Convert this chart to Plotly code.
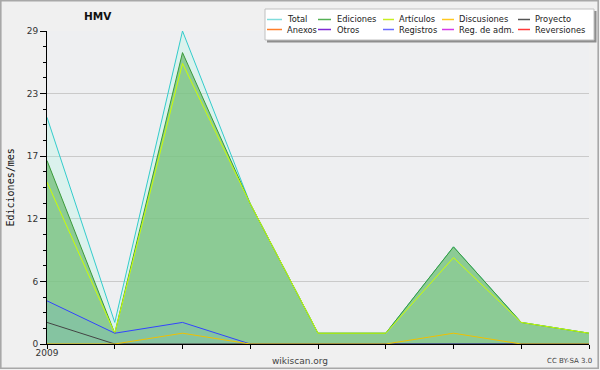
import plotly.graph_objects as go

# ---- data ----
months = ["2009-01", "2009-02", "2009-03", "2009-04", "2009-05",
          "2009-06", "2009-07", "2009-08", "2009-09"]
month_labels = ["2009", "", "", "", "", "", "", "", ""]

total = [21, 2, 29, 13, 1, 1, 9, 2, 1]
ediciones = [17, 1, 27, 13, 1, 1, 9, 2, 1]
articulos = [15, 1, 26, 13, 1, 1, 8, 2, 1]
discusiones = [0, 0, 1, 0, 0, 0, 1, 0, 0]
proyecto = [2, 0, 0, 0, 0, 0, 0, 0, 0]
anexos = [0, 0, 0, 0, 0, 0, 0, 0, 0]
otros = [0, 0, 0, 0, 0, 0, 0, 0, 0]
registros = [4, 1, 2, 0, 0, 0, 0, 0, 0]
reg_adm = [0, 0, 0, 0, 0, 0, 0, 0, 0]
reversiones = [0, 0, 0, 0, 0, 0, 0, 0, 0]

y_tickvals = [0, 5.8, 11.6, 17.4, 23.2, 29]
y_ticktext = ["0", "6", "12", "17", "23", "29"]

legend_names = [["Total", "Ediciones", "Artículos", "Discusiones", "Proyecto"],
                ["Anexos", "Otros", "Registros", "Reg. de adm.", "Reversiones"]]
legend_colors = [["#80dcdc", "#55b055", "#c8ee22", "#ffc820", "#555555"],
                 ["#ff7f2a", "#7f2ad4", "#6a6aff", "#d43ae8", "#ff3a3a"]]

# ---- geometry helpers (pixel -> paper) ----
W, H = 600, 370
ML, MR, MT, MB = 47, 11, 31, 26
PW, PH = W - ML - MR, H - MT - MB


def px(x):
    return (x - ML) / PW


def py(y):
    return (H - MB - y) / PH


fig = go.Figure()

series = [
    ("Anexos", anexos, "#ff8833", None),
    ("Otros", otros, "#8833dd", None),
    ("Reg. de adm.", reg_adm, "#dd44ee", None),
    ("Reversiones", reversiones, "#ff4444", None),
    ("Total", total, "#33cccc", "rgba(154,255,222,0.22)"),
    ("Ediciones", ediciones, "#3a9a3a", "rgba(120,192,126,0.80)"),
    ("Artículos", articulos, "#ccff00", None),
    ("Registros", registros, "#3344ff", "rgba(80,150,255,0.12)"),
    ("Proyecto", proyecto, "#444444", None),
    ("Discusiones", discusiones, "#f0c000", None),
]
for name, vals, col, fill in series:
    fig.add_trace(go.Scatter(
        x=months, y=vals, name=name, mode="lines",
        line=dict(color=col, width=1),
        fill="tozeroy" if fill else None,
        fillcolor=fill,
        showlegend=False,
        hoverinfo="x+y+name",
    ))

shapes = []
annotations = []

# outer frame
shapes.append(dict(type="rect", xref="paper", yref="paper",
                   x0=px(0.8), x1=px(598.2), y0=py(0.8), y1=py(368.2),
                   line=dict(color="#a8a8a8", width=1.6), fillcolor="rgba(0,0,0,0)",
                   layer="above"))

# legend box with shadow
shapes.append(dict(type="rect", xref="paper", yref="paper",
                   x0=px(267), x1=px(596.5), y0=py(11), y1=py(42.5),
                   line=dict(width=0), fillcolor="#8e8e8e", layer="above"))
shapes.append(dict(type="rect", xref="paper", yref="paper",
                   x0=px(265), x1=px(594), y0=py(9), y1=py(40),
                   line=dict(color="#c0c0c0", width=1), fillcolor="#ffffff",
                   layer="above"))

col_line_x = [(267, 282), (318, 331), (383, 394), (442, 454), (518, 530)]
col_text_x = [285, 335, 397, 457, 533]
row_y = [19.5, 29.5]
for r in range(2):
    for c in range(5):
        x0, x1 = col_line_x[c]
        shapes.append(dict(type="line", xref="paper", yref="paper",
                           x0=px(x0), x1=px(x1), y0=py(row_y[r]), y1=py(row_y[r]),
                           line=dict(color=legend_colors[r][c], width=1.5),
                           layer="above"))
        annotations.append(dict(xref="paper", yref="paper",
                                x=px(col_text_x[c]), y=py(row_y[r]),
                                text=legend_names[r][c], showarrow=False,
                                xanchor="left", yanchor="middle",
                                font=dict(family="DejaVu Sans", size=8.3, color="#222222")))

# title
annotations.append(dict(xref="paper", yref="paper", x=px(97.5), y=py(16.5),
                        text="<b>HMV</b>", showarrow=False,
                        xanchor="center", yanchor="middle",
                        font=dict(family="DejaVu Sans", size=10.5, color="#111111")))
# y-axis title
annotations.append(dict(xref="paper", yref="paper", x=px(9.5), y=py(188),
                        text="Ediciones/mes", showarrow=False, textangle=-90,
                        xanchor="center", yanchor="middle",
                        font=dict(family="DejaVu Sans Mono", size=10, color="#111111")))
# footer texts
annotations.append(dict(xref="paper", yref="paper", x=px(300), y=py(361),
                        text="wikiscan.org", showarrow=False,
                        xanchor="center", yanchor="middle",
                        font=dict(family="DejaVu Sans", size=9, color="#444444")))
annotations.append(dict(xref="paper", yref="paper", x=px(569.5), y=py(361.5),
                        text="CC BY-SA 3.0", showarrow=False,
                        xanchor="center", yanchor="middle",
                        font=dict(family="DejaVu Sans", size=7, color="#444444")))

fig.update_layout(
    width=W, height=H,
    margin=dict(l=ML, r=MR, t=MT, b=MB, pad=0),
    paper_bgcolor="#f0f0f0",
    plot_bgcolor="#eeeff1",
    showlegend=False,
    shapes=shapes,
    annotations=annotations,
    xaxis=dict(
        type="category",
        range=[0, 8],
        tickmode="array", tickvals=months, ticktext=month_labels,
        showgrid=False, zeroline=False,
        showline=True, linecolor="#000000", linewidth=1,
        ticks="outside", ticklen=4, tickcolor="#000000", tickwidth=1,
        ticklabelstandoff=-4,
        tickfont=dict(family="DejaVu Sans", size=9, color="#333333"),
    ),
    yaxis=dict(
        range=[0, 29],
        tickmode="array", tickvals=y_tickvals, ticktext=y_ticktext,
        showgrid=True, gridcolor="#cacaca", gridwidth=1,
        zeroline=False,
        showline=True, linecolor="#000000", linewidth=1,
        ticks="outside", ticklen=6, tickcolor="#000000", tickwidth=1,
        minor=dict(tick0=0, dtick=1.45, ticks="outside", ticklen=3,
                   tickcolor="#000000", showgrid=False),
        tickfont=dict(family="DejaVu Sans", size=9, color="#333333"),
    ),
)

fig.write_html(
    "out.html",
    config={"displayModeBar": False},
    post_script="document.body.style.margin='0';document.body.style.padding='0';"
                "document.body.style.overflow='hidden';",
)
